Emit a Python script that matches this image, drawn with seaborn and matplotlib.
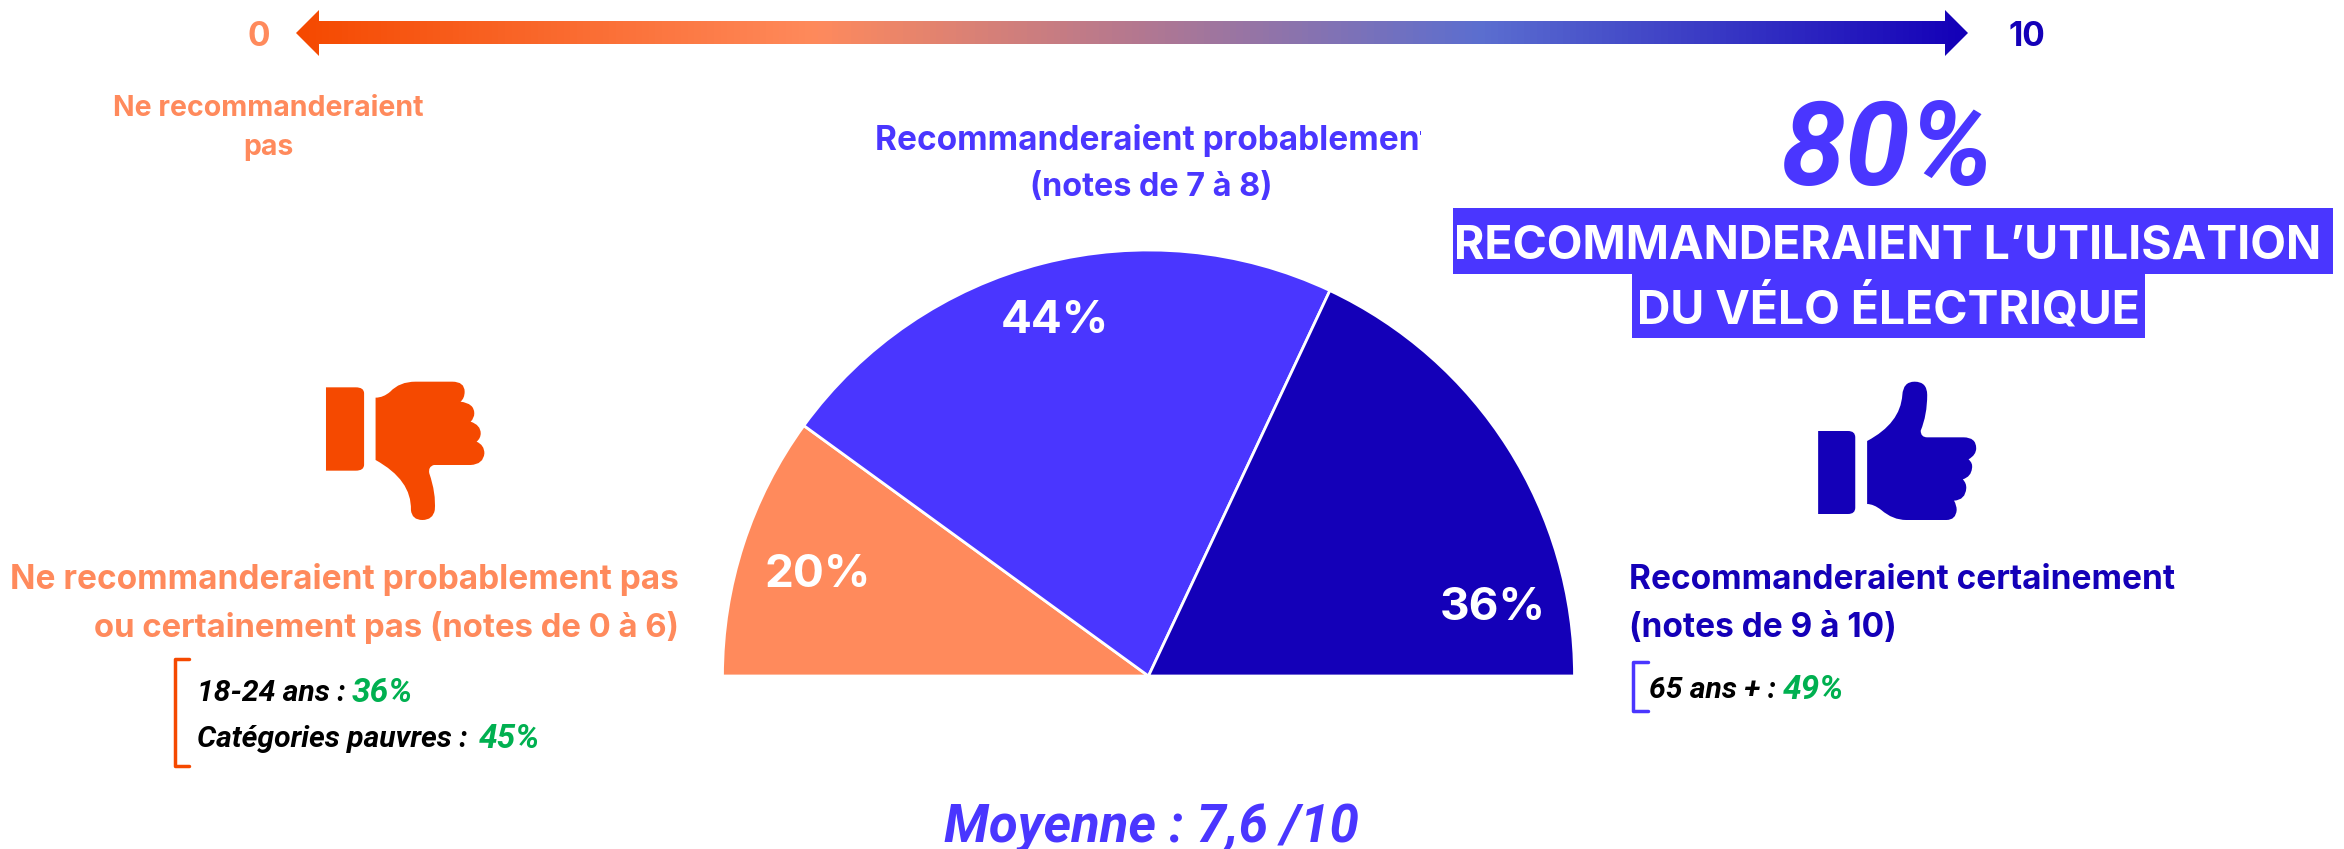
import matplotlib
matplotlib.use("Agg")
import matplotlib.pyplot as plt
import numpy as np
import seaborn as sns
from matplotlib.colors import LinearSegmentedColormap
from matplotlib.patches import PathPatch, Polygon, Rectangle
from matplotlib.path import Path
from matplotlib.transforms import Bbox

# data
categories = ["Ne recommanderaient pas", "Recommanderaient probablement", "Recommanderaient certainement"]
shares = [20, 44, 36]
share_labels = ["20%", "44%", "36%"]
total_label = "80%"
moyenne = "Moyenne : 7,6 /10"

ORANGE = "#FF8A5C"
DARK_ORANGE = "#F54900"
BLUE = "#4A36FF"
NAVY = "#1400B8"
GREEN = "#00B050"

sns.set_theme(style="white")
plt.rcParams["font.family"] = ["Inter", "DejaVu Sans"]
W, H = 2344, 849
fig = plt.figure(figsize=(W / 100, H / 100), dpi=100, facecolor="white")

# overlay in pixel coordinates for all the annotation stuff
ov = fig.add_axes([0, 0, 1, 1])
ov.axis("off")

# half pie, the hidden wedge is the bottom half
cx, cy, r = 1148.5, 676, 426
pie_ax = fig.add_axes([(cx - r) / W, 1 - cy / H, 2 * r / W, r / H], zorder=2)
wedges, _ = pie_ax.pie(
    shares + [sum(shares)],
    colors=[ORANGE, BLUE, NAVY, "white"],
    startangle=180,
    counterclock=False,
    radius=1,
    wedgeprops={"edgecolor": "white", "linewidth": 2},
)
wedges[-1].set_visible(False)
pie_ax.set_aspect("auto")
pie_ax.set_xlim(-1, 1)
pie_ax.set_ylim(0, 1)
pie_ax.patch.set_visible(False)

label_pos = [(-0.776, 0.238), (-0.219, 0.833), (0.807, 0.16)]
for lab, (lx, ly) in zip(share_labels, label_pos):
    pie_ax.text(lx, ly, lab, color="white", fontsize=33, fontweight="bold", ha="center", va="center")

# gradient arrow
cmap = LinearSegmentedColormap.from_list(
    "scale",
    [(0, DARK_ORANGE), (0.31, ORANGE), (0.5, "#B5788F"), (0.71, "#5B6ED0"), (1, NAVY)],
)
im = ov.imshow(
    np.linspace(0, 1, 512).reshape(1, -1),
    cmap=cmap,
    extent=[296, 1968, 56, 10],
    aspect="auto",
    zorder=1,
)
ov.set_xlim(0, W)
ov.set_ylim(H, 0)
arrow = Polygon(
    [(296, 33), (319, 10), (319, 21), (1945, 21), (1945, 10), (1968, 33), (1945, 56), (1945, 44), (319, 44), (319, 56)],
    closed=True,
    transform=ov.transData,
    fc="none",
    ec="none",
)
ov.add_patch(arrow)
im.set_clip_path(arrow)


def txt(x, y, s, color, size, ha="left", weight="bold", style="normal", family=None, **kw):
    fam = family if family else ["Inter", "DejaVu Sans"]
    return ov.text(x, y, s, color=color, fontsize=size, ha=ha, va="center", fontweight=weight,
                   fontstyle=style, family=fam, **kw)


ITAL = ["Roboto", "DejaVu Sans"]

txt(259, 37, "0", ORANGE, 24, ha="center")
txt(2027, 37, "10", NAVY, 24, ha="center")
txt(268, 108, "Ne recommanderaient", ORANGE, 20.5, ha="center")
txt(268, 147, "pas", ORANGE, 20.5, ha="center")

# last letter is cut in the original
t1 = txt(875, 140, "Recommanderaient probablement", BLUE, 24)
t1.set_clip_box(Bbox([[0, 0], [1421, H]]))
t1.set_clip_on(True)
txt(1151, 187, "(notes de 7 à 8)", BLUE, 23.3, ha="center")

# 80% block
txt(1887, 153, total_label, BLUE, 84, ha="center", style="italic", family=ITAL)
ov.add_patch(Rectangle((1453, 208), 880, 66, fc=BLUE, ec="none"))
ov.add_patch(Rectangle((1632, 274), 513, 64, fc=BLUE, ec="none"))
txt(1888, 246, "RECOMMANDERAIENT L’UTILISATION", "white", 33.4, ha="center", zorder=3)
txt(1888, 310, "DU VÉLO ÉLECTRIQUE", "white", 33.4, ha="center", zorder=3)

# left block
txt(679, 580, "Ne recommanderaient probablement pas", ORANGE, 24, ha="right")
txt(679, 628, "ou certainement pas (notes de 0 à 6)", ORANGE, 23.7, ha="right")
ov.plot([189, 175, 175, 189], [659, 659, 766, 766], color=DARK_ORANGE, lw=2.5, solid_joinstyle="round")
txt(197, 693, "18-24 ans :", "black", 21.7, style="italic", family=ITAL)
txt(352, 693, "36%", GREEN, 24, style="italic", family=ITAL)
txt(197, 739, "Catégories pauvres :", "black", 21.7, style="italic", family=ITAL)
txt(479, 739, "45%", GREEN, 24, style="italic", family=ITAL)

# right block
txt(1629, 580, "Recommanderaient certainement", NAVY, 24)
txt(1629, 628, "(notes de 9 à 10)", NAVY, 24)
ov.plot([1648, 1633, 1633, 1648], [662, 662, 711, 711], color=BLUE, lw=2.5, solid_joinstyle="round")
txt(1649, 690, "65 ans + :", "black", 21.7, style="italic", family=ITAL)
txt(1783, 690, "49%", GREEN, 24, style="italic", family=ITAL)

txt(1151, 829, moyenne, BLUE, 38, ha="center", style="italic", family=ITAL)


# thumbs, outlines
M, L, Q, Z = Path.MOVETO, Path.LINETO, Path.CURVE3, Path.CLOSEPOLY


def trace(steps, fx, fy, color):
    pts, codes = [], []
    for code, *xy in steps:
        if code == Q:
            pts += [(fx(xy[0]), fy(xy[1])), (fx(xy[2]), fy(xy[3]))]
            codes += [Q, Q]
        elif code == Z:
            pts.append((0, 0))
            codes.append(Z)
        else:
            pts.append((fx(xy[0]), fy(xy[1])))
            codes.append(code)
    ov.add_patch(PathPatch(Path(pts, codes), fc=color, ec="none"))


up = [
    (M, 698, 243), (Q, 785, 190, 790, 105), (Q, 792, 65, 822, 65), (Q, 855, 65, 855, 105),
    (Q, 855, 165, 838, 212), (Q, 838, 232, 855, 232), (L, 950, 232), (Q, 983, 232, 983, 265),
    (Q, 983, 285, 963, 298), (Q, 975, 310, 972, 325), (Q, 970, 350, 948, 358), (Q, 958, 370, 957, 385),
    (Q, 955, 420, 925, 422), (Q, 932, 435, 932, 450), (Q, 930, 480, 905, 480), (L, 800, 480),
    (Q, 765, 480, 735, 450), (Q, 715, 432, 698, 432), (Z,),
]
up_cuff = [
    (M, 570, 213), (L, 648, 213), (Q, 667, 213, 667, 232), (L, 667, 443), (Q, 667, 462, 648, 462),
    (L, 570, 462), (Z,),
]
fx_up = lambda x: 1600 + x / 2.613
fy_up = lambda y: 360 + y / 3
trace(up, fx_up, fy_up, NAVY)
trace(up_cuff, fx_up, fy_up, NAVY)

down = [
    (M, 818, 113), (Q, 835, 113, 850, 95), (Q, 870, 65, 905, 65), (L, 985, 65),
    (Q, 1012, 65, 1012, 95), (Q, 1012, 115, 1003, 125), (Q, 1033, 130, 1033, 160), (Q, 1033, 175, 1025, 185),
    (Q, 1047, 195, 1047, 220), (Q, 1047, 235, 1038, 245), (Q, 1055, 255, 1055, 280), (Q, 1053, 313, 1025, 315),
    (L, 945, 315), (Q, 932, 320, 935, 340), (Q, 950, 400, 947, 450), (Q, 943, 480, 920, 480),
    (Q, 897, 480, 895, 450), (Q, 897, 360, 818, 300), (Z,),
]
down_cuff = [
    (M, 710, 82), (L, 775, 82), (Q, 793, 82, 793, 100), (L, 793, 314), (Q, 793, 332, 775, 332),
    (L, 710, 332), (Z,),
]
fx_down = lambda x: x / 2.178
fy_down = lambda y: 360 + y / 3
trace(down, fx_down, fy_down, DARK_ORANGE)
trace(down_cuff, fx_down, fy_down, DARK_ORANGE)

fig.savefig("out.png", dpi=100, facecolor="white")
